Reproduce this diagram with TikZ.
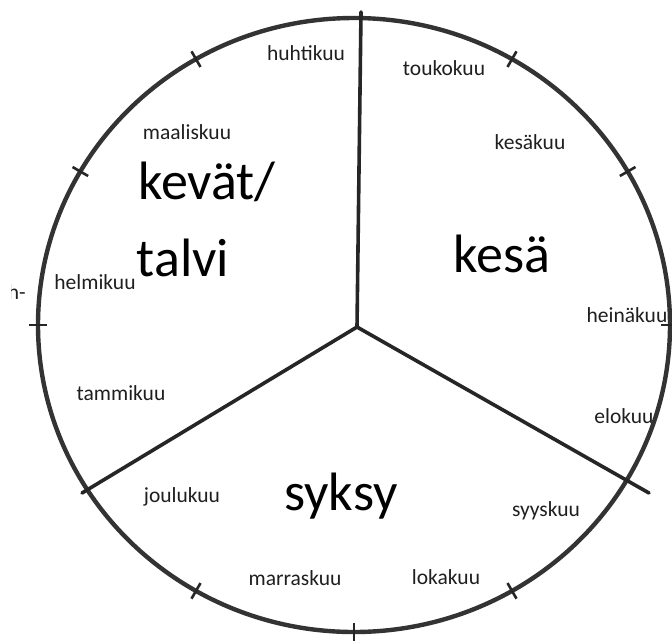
\documentclass[tikz,border=0pt]{standalone}
\usepackage{fontspec}
\setmainfont{Carlito}
\usetikzlibrary{calc}
\begin{document}
\begin{tikzpicture}[x=1pt,y=-1pt,
  rim/.style={draw=black!80,line width=4.4pt},
  divider/.style={draw=black!85,line width=3.6pt,line cap=round},
  tickmark/.style={draw=black!85,line width=2.6pt},
  month/.style={font=\fontsize{21.5}{24}\selectfont,text=black!88,inner sep=0pt},
  season/.style={font=\fontsize{54}{60}\selectfont,text=black,inner sep=0pt}]
\useasboundingbox (0,0) rectangle (672,641);
\fill[white] (0,0) rectangle (672,641);
% rim
\coordinate (C) at (354,325);
\draw[rim] (C) ellipse [x radius=316pt, y radius=307pt];
% ticks
\foreach \a in {60,30,0,-60,-90,-120,180,150,120}{
  \draw[tickmark] ({354+(316-9)*cos(\a)},{325-(307-9)*sin(\a)}) -- ({354+(316+9)*cos(\a)},{325-(307+9)*sin(\a)});
}
% dividers
\coordinate (hub) at (357,327);
\coordinate (topend) at (361,12);
\coordinate (leftend) at (82,493);
\coordinate (rightend) at (649,493);
\draw[divider] (hub) -- (topend);
\draw[divider] (hub) -- (leftend);
\draw[divider] (hub) -- (rightend);
% months
\node[month] (huhti) at (306,53) {huhtikuu};
\node[month] (touko) at (444,68) {toukokuu};
\node[month] (kesak) at (530,142) {kesäkuu};
\node[month] (maalis) at (187,132) {maaliskuu};
\node[month] (helmi) at (95,282) {helmikuu};
\node[month] (tammi) at (121,393) {tammikuu};
\node[month] (joulu) at (182,497) {joulukuu};
\node[month] (marras) at (295,578) {marraskuu};
\node[month] (loka) at (446,577) {lokakuu};
\node[month] (syys) at (546,511) {syyskuu};
\node[month] (elo) at (624,416) {elokuu};
\node[month] (heina) at (627,315) {heinäkuu};
% stray clipped text
\begin{scope}
\clip (11,270) rectangle (40,310);
\node[month,anchor=east] (stray) at (26,292) {h-};
\end{scope}
% seasons
\node[season] (kevat) at (207,182) {kevät/};
\node[season] (talvi) at (183,258) {talvi};
\node[season] (kesa) at (502,254) {kesä};
\node[season] (syksy) at (341,496) {syksy};
\end{tikzpicture}
\end{document}
